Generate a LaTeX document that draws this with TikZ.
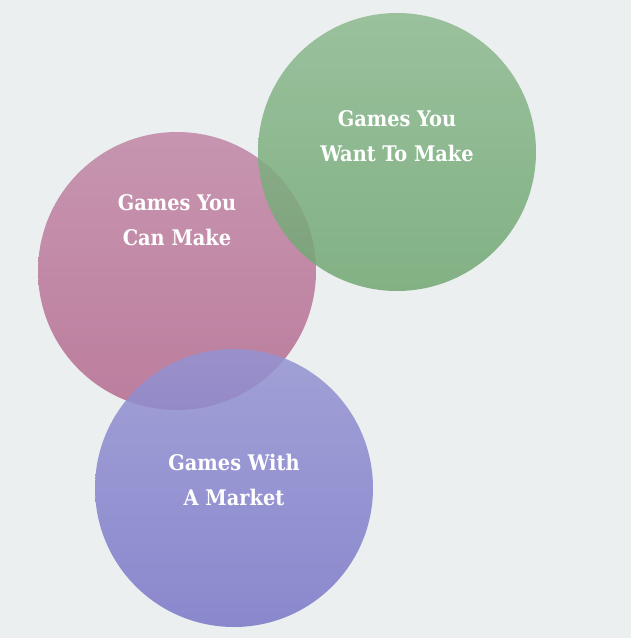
\documentclass[tikz,border=0pt]{standalone}
\usepackage{fontspec}
\setmainfont{DejaVu Serif}
\newfontfamily\vennfont{DejaVu Serif Condensed}
\usetikzlibrary{positioning}
\definecolor{bgcol}{RGB}{236,239,240}
\definecolor{wanttop}{RGB}{140,185,142}
\definecolor{wantbot}{RGB}{112,167,114}
\definecolor{cantop}{RGB}{193,134,165}
\definecolor{canbot}{RGB}{180,106,143}
\definecolor{markettop}{RGB}{148,147,210}
\definecolor{marketbot}{RGB}{122,119,200}

\begin{document}
\begin{tikzpicture}[x=1pt,y=-1pt,
            venn/.style={fill opacity=0.85},
            venn text/.style={text=white,align=center,font=\vennfont\bfseries\fontsize{21.5}{35}\selectfont}]
            \fill[bgcol] (0,0) rectangle (631,638);
            \useasboundingbox (0,0) rectangle (631,638);
            \coordinate (can) at (177,271);
            \coordinate (want) at (397,152);
            \coordinate (market) at (234,488);
            \shade[venn, top color=cantop, bottom color=canbot] (can) circle[radius=139];
            \shade[venn, top color=wanttop, bottom color=wantbot] (want) circle[radius=139];
            \shade[venn, top color=markettop, bottom color=marketbot] (market) circle[radius=139];
            \node[venn text] (want label) at (397,136) {Games You\\Want To Make};
            \node[venn text] (can label) at (177,220) {Games You\\Can Make};
            \node[venn text] (market label) at (234,480) {Games With\\A Market};
        \end{tikzpicture}
\end{document}
